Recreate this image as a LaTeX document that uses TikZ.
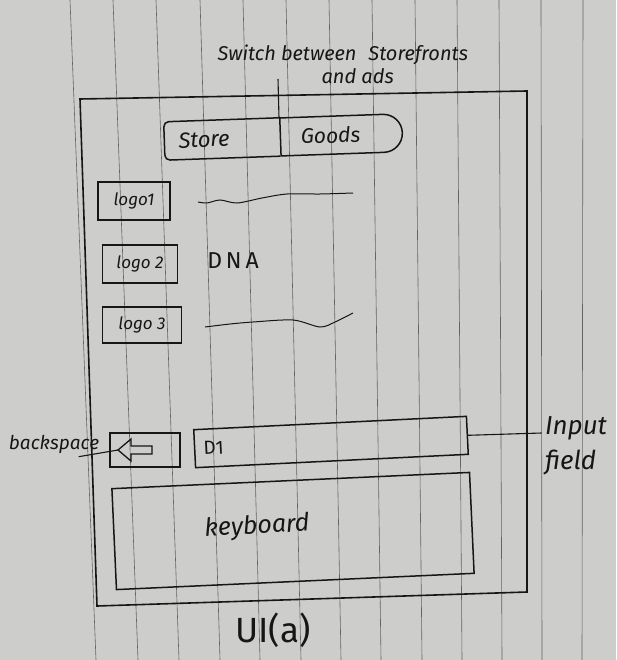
\documentclass[tikz,border=0pt]{standalone}
\usepackage{fontspec}
\setmainfont{Fira Sans}
\usepackage{tikz}
\usetikzlibrary{positioning,shapes.misc}
\definecolor{paper}{RGB}{205,205,203}
\definecolor{ink}{RGB}{22,22,22}
\definecolor{ruling}{RGB}{100,100,100}
\tikzset{
  hand/.style={font=\fontsize{#1}{#1}\selectfont\itshape, text=ink},
  plain/.style={font=\fontsize{#1}{#1}\selectfont, text=ink},
  sketchbox/.style={draw=ink, line width=1.5pt, inner sep=0pt},
  logobox/.style={sketchbox, minimum height=38, inner xsep=4pt},
  callout/.style={draw=ink, line width=1.1pt},
  squiggle/.style={draw=ink, line width=1pt},
  ruleline/.style={draw=ruling, line width=0.6pt}
}

\begin{document}
\begin{tikzpicture}[x=1pt, y=-1pt]
  \fill[paper] (0,0) rectangle (616,660);
  \useasboundingbox (0,0) rectangle (616,660);
  \foreach \xt/\xb in {70/96, 113/138, 156/179, 200/220, 243/260, 286/301, 329/341, 372/381, 415/422, 457/462, 499/502, 541/542, 583/582}
    \draw[ruleline] (\xt,0) -- (\xb,660);

  \draw[ink, line width=1.6pt] (80,99) -- (527,91) -- (527,592) -- (97,606) -- cycle;

  \node[hand=20, anchor=west, align=left] (switchlbl) at (214,64) {Switch between\hspace{12pt}Storefronts\\[3pt]\hspace*{104pt}and ads};
  \coordinate (switchend) at (278,79);

  \node[hand=22, minimum width=115, minimum height=38, inner sep=0pt, rotate=2] (store) at (222,139) {Store\hspace*{36pt}};
  \node[hand=21, sketchbox, rounded rectangle, rounded rectangle left arc=none, minimum width=122, minimum height=38, rotate=2, anchor=west] (goods) at (store.east) {Goods\hspace*{20pt}};
  \draw[ink, line width=1.5pt, rounded corners=5pt] (store.north east) -- (store.north west) -- (store.south west) -- (store.south east);
  \draw[callout] (switchend) -- (store.north east);

  \node[hand=17, logobox, minimum width=72] (logoa) at (134,201) {logo1};
  \node[hand=17, logobox, minimum width=75] (logob) at (140,264) {logo 2};
  \node[hand=17, logobox, minimum width=79, minimum height=36] (logoc) at (142,325) {logo 3};

  \draw[squiggle] plot[smooth] coordinates {(198,202) (207,203) (220,200) (237,203) (262,198) (287,194) (320,194) (353,193)};
  \node[plain=23] (dna) at (233,261) {D\,N\,A};
  \draw[squiggle] plot[smooth] coordinates {(205,327) (230,324) (253,322) (293,320) (320,327) (335,322) (353,313)};

  \node[sketchbox, minimum width=70, minimum height=34] (back) at (145,450) {};
  \coordinate (backtip) at ([xshift=-27pt]back.center);
  \draw[ink, line width=1.3pt] (backtip) -- ++(13,-11) -- ++(0,7) -- ++(21,0) -- ++(0,8) -- ++(-21,0) -- ++(0,7) -- cycle;
  \node[hand=19] (bslbl) at (54,444) {backspace};
  \draw[callout] ([xshift=-24pt]bslbl.south east) -- (backtip);

  \node[plain=19, sketchbox, minimum width=273, minimum height=38, text width=255, inner xsep=9pt, align=left, rotate=2.8] (input) at (331,442) {D1};
  \node[hand=26, align=left] (inputlbl) at (576,446) {Input\\[9pt]field};
  \draw[callout] (input.east) -- ([yshift=13pt]inputlbl.west);

  \node[sketchbox, minimum width=358, minimum height=101, rotate=2.6] (keyboard) at (293,531) {};
  \node[hand=25, rotate=3] (kblbl) at (257,527) {keyboard};

  \node[plain=35] (caption) at (273,630) {UI(a)};
\end{tikzpicture}
\end{document}
